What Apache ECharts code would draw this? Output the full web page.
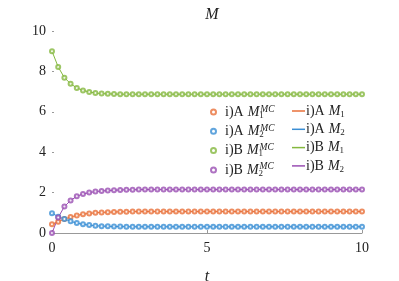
<!DOCTYPE html>
<html><head><meta charset="utf-8">
<script src="https://cdn.jsdelivr.net/npm/echarts@6/dist/echarts.min.js"></script>
<style>html,body{margin:0;padding:0;background:#fff}#c{width:399px;height:281px}</style>
</head><body><div id="c"></div>
<script>
const tValues = [0,0.2,0.4,0.6,0.8,1,1.2,1.4,1.6,1.8,2,2.2,2.4,2.6,2.8,3,3.2,3.4,3.6,3.8,4,4.2,4.4,4.6,4.8,5,5.2,5.4,5.6,5.8,6,6.2,6.4,6.6,6.8,7,7.2,7.4,7.6,7.8,8,8.2,8.4,8.6,8.8,9,9.2,9.4,9.6,9.8,10];
const A_M1 = [0.43,0.56,0.69,0.79,0.87,0.93,0.97,1.00,1.02,1.03,1.04,1.05,1.05,1.06,1.06,1.06,1.06,1.06,1.06,1.06,1.06,1.06,1.06,1.06,1.06,1.06,1.06,1.06,1.06,1.06,1.06,1.06,1.06,1.06,1.06,1.06,1.06,1.06,1.06,1.06,1.06,1.06,1.06,1.06,1.06,1.06,1.06,1.06,1.06,1.06,1.06];
const A_M2 = [0.98,0.81,0.69,0.58,0.49,0.43,0.39,0.36,0.34,0.33,0.32,0.32,0.31,0.31,0.31,0.31,0.31,0.31,0.31,0.31,0.31,0.31,0.31,0.31,0.31,0.31,0.31,0.31,0.31,0.31,0.31,0.31,0.31,0.31,0.31,0.31,0.31,0.31,0.31,0.31,0.31,0.31,0.31,0.31,0.31,0.31,0.31,0.31,0.31,0.31,0.31];
const B_M1 = [9.00,8.22,7.69,7.39,7.18,7.06,6.98,6.93,6.90,6.89,6.88,6.87,6.87,6.87,6.87,6.87,6.87,6.87,6.87,6.87,6.87,6.87,6.87,6.87,6.87,6.87,6.87,6.87,6.87,6.87,6.87,6.87,6.87,6.87,6.87,6.87,6.87,6.87,6.87,6.87,6.87,6.87,6.87,6.87,6.87,6.87,6.87,6.87,6.87,6.87,6.87];
const B_M2 = [0.00,0.77,1.31,1.61,1.82,1.93,2.00,2.05,2.08,2.10,2.12,2.13,2.14,2.14,2.15,2.15,2.15,2.15,2.15,2.15,2.15,2.15,2.15,2.15,2.15,2.15,2.15,2.15,2.15,2.15,2.15,2.15,2.15,2.15,2.15,2.15,2.15,2.15,2.15,2.15,2.15,2.15,2.15,2.15,2.15,2.15,2.15,2.15,2.15,2.15,2.15];
const yTicks = [0,2,4,6,8,10];
const xTicks = [0,5,10];
const seriesDefs = [
  {key:'A1', grp:'A', idx:'1', data:A_M1, color:'#e8703a'},
  {key:'A2', grp:'A', idx:'2', data:A_M2, color:'#3a8ed4'},
  {key:'B1', grp:'B', idx:'1', data:B_M1, color:'#84b83e'},
  {key:'B2', grp:'B', idx:'2', data:B_M2, color:'#9a4fb3'}
];
const FONT = 'Liberation Serif';
const pair = a => tValues.map((t,i)=>[t,a[i]]);
const series = [];
seriesDefs.forEach(d=>{
  series.push({name:d.key+'mc', type:'scatter', data:pair(d.data), symbol:'emptyCircle', symbolSize:4,
    itemStyle:{color:d.color, borderColor:d.color, borderWidth:0.9}, z:3});
  series.push({name:d.key+'ln', type:'line', data:pair(d.data), showSymbol:false, symbol:'none',
    lineStyle:{color:d.color, width:1}, itemStyle:{color:d.color}, z:2});
});
const rich = {
  n:{fontFamily:FONT, fontSize:14, color:'#222', lineHeight:16},
  it:{fontFamily:FONT, fontSize:14, fontStyle:'italic', color:'#222', lineHeight:16, padding:[0,0,0,4]},
  sub:{fontFamily:FONT, fontSize:9, color:'#222', lineHeight:16, verticalAlign:'bottom', width:1},
  sup:{fontFamily:FONT, fontSize:9.5, fontStyle:'italic', color:'#222', lineHeight:16, verticalAlign:'top'},
  sub2:{fontFamily:FONT, fontSize:9, color:'#222', lineHeight:16, verticalAlign:'bottom'}
};
const fmt = name => {
  const d = seriesDefs.find(s=>name.startsWith(s.key));
  if (name.endsWith('mc')) return '{n|i)'+d.grp+'}{it|M}{sub|'+d.idx+'}{sup|MC}';
  return '{n|i)'+d.grp+'}{it|M}{sub2|'+d.idx+'}';
};
const option = {
  animation:false,
  backgroundColor:'#fff',
  title:{text:'M', left:207, top:2, textAlign:'center', textStyle:{fontFamily:FONT, fontStyle:'italic', fontWeight:'normal', fontSize:16, color:'#222'}},
  grid:{left:52, right:37, top:31, bottom:48, containLabel:false, outerBoundsMode:'none'},
  xAxis:{type:'value', min:0, max:10, interval:5, name:'t', nameLocation:'middle', nameGap:36,
    nameTextStyle:{fontFamily:FONT, fontStyle:'italic', fontSize:16, color:'#222'},
    axisLine:{show:true, lineStyle:{color:'#999', width:1}},
    axisTick:{show:true, inside:true, length:3, lineStyle:{color:'#999'}},
    axisLabel:{fontFamily:FONT, fontSize:14, color:'#222', margin:8},
    splitLine:{show:false}},
  yAxis:{type:'value', min:0, max:10, interval:2,
    axisLine:{show:false},
    axisTick:{show:true, inside:true, length:2, lineStyle:{color:'#999'}},
    axisLabel:{fontFamily:FONT, fontSize:14, color:'#222', margin:6},
    splitLine:{show:false}},
  legend:[
    {orient:'vertical', left:205, top:99, itemWidth:5, itemHeight:5, itemGap:3.3,
     itemStyle:{borderWidth:1},
     data:seriesDefs.map(d=>({name:d.key+'mc', icon:'emptyCircle'})),
     formatter:fmt, textStyle:{rich:rich, padding:[0,0,0,4]}},
    {orient:'vertical', left:287, top:99, itemWidth:13, itemHeight:1.5, itemGap:3.3,
     data:seriesDefs.map(d=>({name:d.key+'ln', icon:'rect'})),
     formatter:fmt, textStyle:{rich:rich, padding:[0,0,0,-4]}}
  ],
  series:series
};
const chart = echarts.init(document.getElementById('c'), null, {renderer:'canvas'});
chart.setOption(option);
</script></body></html>
